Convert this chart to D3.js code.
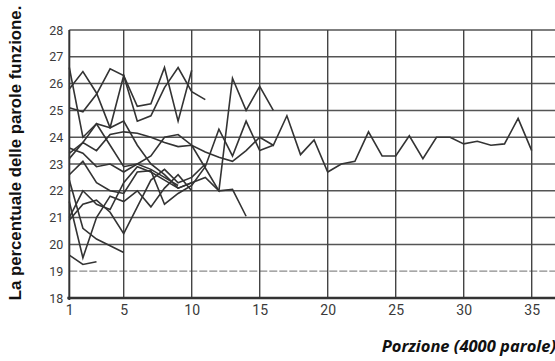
<!DOCTYPE html>
<html><head><meta charset="utf-8">
<script src="https://cdn.jsdelivr.net/npm/d3@7"></script>
<style>body{margin:0;background:#fff}svg{display:block}</style>
</head><body>
<script>
// Series values (percentage of function words), index 0 = portion 1
const seriesLong = [23.2,23.8,23.5,24.1,24.2,24.15,24.0,23.8,23.65,23.7,23.45,23.25,23.1,23.5,24.0,23.7,24.8,23.35,23.9,22.7,23.0,23.1,24.2,23.3,23.3,24.05,23.2,24.0,24.0,23.75,23.85,23.7,23.75,24.7,23.5];
const seriesA = [21.0,22.0,21.5,21.3,22.3,22.9,22.7,22.4,22.1,22.3,22.5,22.0,26.2,25.0,25.9,25.0];
const seriesB = [22.6,23.1,22.3,22.0,21.9,22.7,22.75,21.5,21.9,22.2,22.9,24.3,23.3,24.6,23.5,23.7];
const seriesC = [23.6,23.4,22.9,23.0,22.7,23.0,23.3,24.0,24.1,23.7,22.85,22.0,22.05,21.05];
const seriesD = [25.1,24.95,25.6,26.55,26.3,25.15,25.25,26.6,24.6,26.5];
const seriesE = [23.4,23.8,24.5,24.35,26.3,24.6,24.8,25.85,26.6,25.7,25.4];
const seriesF = [25.8,26.45,25.65,24.35,24.6,23.7,23.0,22.6,22.1,22.3];
const seriesG = [26.6,24.0,24.5,23.7,22.9,23.0,22.8,22.5,22.2];
const seriesH = [19.6,19.25,19.35];
const seriesI = [20.9,21.5,21.65,21.2,20.4,21.4,22.4,22.8,22.3,22.5,23.0];
const seriesJ = [22.4,20.6,20.2,19.95,19.7];
const seriesK = [21.6,19.5,21.0,21.8,21.6,22.0,21.4,22.1,22.6,22.0];
const allSeries = [seriesLong,seriesA,seriesB,seriesC,seriesD,seriesE,seriesF,seriesG,seriesH,seriesI,seriesJ,seriesK];

const xTicks = [1,5,10,15,20,25,30,35];
const yTicks = [18,19,20,21,22,23,24,25,26,27,28];
const yLabel = "La percentuale delle parole funzione.";
const xLabel = "Porzione (4000 parole)";

const W = 555, H = 361;
const svg = d3.select("body").append("svg").attr("width", W).attr("height", H);

const x = d3.scaleLinear().domain([1, 37]).range([69.3, 69.3 + 36 * 13.6]);
const y = d3.scaleLinear().domain([18, 28]).range([298, 30]);

svg.append("defs").append("clipPath").attr("id","clip")
  .append("rect").attr("x", 68).attr("y", 28).attr("width", W - 68).attr("height", 272);

const grid = svg.append("g");
// horizontal grid
grid.selectAll("line.h").data(yTicks.filter(d => d > 18)).join("line")
  .attr("x1", x(1)).attr("x2", W)
  .attr("y1", d => y(d)).attr("y2", d => y(d))
  .attr("stroke", d => d === 19 ? "#8a8a8a" : "#555")
  .attr("stroke-width", d => d === 19 ? 1.2 : 1.5)
  .attr("stroke-dasharray", d => d === 19 ? "8,2" : null);
// vertical grid
grid.selectAll("line.v").data(xTicks.filter(d => d > 1)).join("line")
  .attr("x1", d => x(d)).attr("x2", d => x(d))
  .attr("y1", y(28)).attr("y2", y(18))
  .attr("stroke", "#444").attr("stroke-width", 1.4);
// left axis line
grid.append("line").attr("x1", x(1)).attr("x2", x(1)).attr("y1", y(28)).attr("y2", y(18) + 2)
  .attr("stroke", "#333").attr("stroke-width", 2);
// bottom axis line
grid.append("line").attr("x1", x(1) - 2).attr("x2", W).attr("y1", y(18)).attr("y2", y(18))
  .attr("stroke", "#333").attr("stroke-width", 2.4);

// axes labels using d3 axes
const yAxis = d3.axisLeft(y).tickValues(yTicks).tickSize(0).tickPadding(6).tickFormat(d3.format("d"));
const gy = svg.append("g").attr("transform", `translate(${x(1)},0)`).call(yAxis);
gy.select(".domain").remove();
gy.selectAll("text").attr("font-family", "'Liberation Sans Narrow','Arial Narrow',Roboto,sans-serif")
  .attr("font-size", 12.5).attr("fill", "#3a3a3a");

const xAxis = d3.axisBottom(x).tickValues(xTicks).tickSize(0).tickPadding(7).tickFormat(d3.format("d"));
const gx = svg.append("g").attr("transform", `translate(0,${y(18)})`).call(xAxis);
gx.select(".domain").remove();
gx.selectAll("text").attr("font-family", "'Liberation Sans Narrow','Arial Narrow',Roboto,sans-serif")
  .attr("font-size", 14).attr("fill", "#3a3a3a");

// series lines
const line = d3.line().x((d, i) => x(i + 1)).y(d => y(d));
svg.append("g").attr("clip-path", "url(#clip)")
  .selectAll("path").data(allSeries).join("path")
  .attr("d", line).attr("fill", "none")
  .attr("stroke", "#333").attr("stroke-width", 1.6).attr("stroke-linejoin", "miter");

// titles
svg.append("text")
  .attr("transform", `translate(21,${153}) rotate(-90)`)
  .attr("text-anchor", "middle")
  .attr("font-family", "'Liberation Sans',Arial,sans-serif")
  .attr("font-weight", "bold").attr("font-size", 16.8).attr("fill", "#111")
  .text(yLabel);

svg.append("text")
  .attr("x", 556).attr("y", 352).attr("text-anchor", "end")
  .attr("font-family", "'Open Sans',sans-serif")
  .attr("font-weight", "bold").attr("font-style", "italic").attr("font-size", 16.5).attr("fill", "#111")
  .text(xLabel);
</script>
</body></html>
